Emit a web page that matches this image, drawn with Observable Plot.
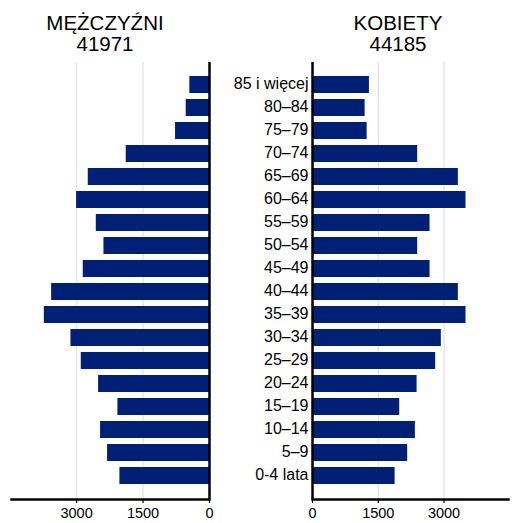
<!DOCTYPE html>
<html>
<head>
<meta charset="utf-8">
<script src="https://cdn.jsdelivr.net/npm/d3@7"></script>
<script src="https://cdn.jsdelivr.net/npm/@observablehq/plot@0.6"></script>
<style>
  body { margin: 0; background: #fff; font-family: "Liberation Sans", Arial, sans-serif; }
  #wrap { position: relative; width: 518px; height: 523px; }
  .title { position: absolute; top: 12px; width: 200px; text-align: center; font-size: 20.5px; line-height: 21px; color: #000; }
  #left, #right { position: absolute; top: 55px; }
  #left { left: 0; }
  #right { left: 216px; }
</style>
</head>
<body>
<div id="wrap">
  <div class="title" id="tm" style="left:5px">MĘŻCZYŹNI<br>41971</div>
  <div class="title" id="tf" style="left:298px">KOBIETY<br>44185</div>
  <div id="left"></div>
  <div id="right"></div>
</div>
<script>
const ageGroups = ["85 i więcej","80–84","75–79","70–74","65–69","60–64","55–59","50–54","45–49","40–44","35–39","30–34","25–29","20–24","15–19","10–14","5–9","0-4 lata"];
const men   = [444, 526, 767, 1880, 2737, 3000, 2556, 2383, 2850, 3564, 3729, 3128, 2895, 2504, 2068, 2459, 2301, 2023];
const women = [1298, 1200, 1246, 2399, 3326, 3501, 2681, 2399, 2681, 3326, 3501, 2938, 2809, 2385, 1989, 2346, 2171, 1884];
const xTicks = [0, 1500, 3000];
const xMax = 4470;

const menData = ageGroups.map((a, i) => ({age: a, value: men[i]}));
const womenData = ageGroups.map((a, i) => ({age: a, value: women[i]}));

const barColor = "#002075";
const yOpts = {domain: ageGroups, paddingInner: 0.26, paddingOuter: 0.59, label: null};
const common = {
  height: 468,
  marginTop: 7,
  marginBottom: 24,
  style: {fontFamily: "'Liberation Sans', Arial, sans-serif", background: "#fff", color: "#000", overflow: "visible"}
};

const left = Plot.plot({
  ...common,
  width: 216,
  marginLeft: 11,
  marginRight: 7,
  x: {domain: [0, xMax], reverse: true, label: null},
  y: yOpts,
  marks: [
    Plot.gridX(xTicks.filter(d => d > 0), {stroke: "#e6e6e6", strokeOpacity: 1, strokeWidth: 1.5}),
    Plot.barX(menData, {x: "value", y: "age", fill: barColor}),
    Plot.axisX({ticks: xTicks, tickSize: 4, tickPadding: 4, fontSize: 14.5, tickFormat: d => String(d), strokeWidth: 1.2, label: null}),
    Plot.axisY({ticks: [], label: null}),
    Plot.ruleX([0], {stroke: "#000", strokeWidth: 2.5}),
    Plot.frame({anchor: "bottom", stroke: "#000", strokeWidth: 2.5})
  ]
});

const right = Plot.plot({
  ...common,
  width: 302,
  marginLeft: 96,
  marginRight: 10,
  x: {domain: [0, xMax], label: null},
  y: yOpts,
  marks: [
    Plot.gridX(xTicks.filter(d => d > 0), {stroke: "#e6e6e6", strokeOpacity: 1, strokeWidth: 1.5}),
    Plot.barX(womenData, {x: "value", y: "age", fill: barColor}),
    Plot.axisX({ticks: xTicks, tickSize: 4, tickPadding: 4, fontSize: 14.5, tickFormat: d => String(d), strokeWidth: 1.2, label: null}),
    Plot.axisY({tickSize: 0, tickPadding: 4, fontSize: 16, dy: -1, label: null}),
    Plot.ruleX([0], {stroke: "#000", strokeWidth: 2.5}),
    Plot.frame({anchor: "bottom", stroke: "#000", strokeWidth: 2.5})
  ]
});

document.getElementById("left").append(left);
document.getElementById("right").append(right);
</script>
</body>
</html>
